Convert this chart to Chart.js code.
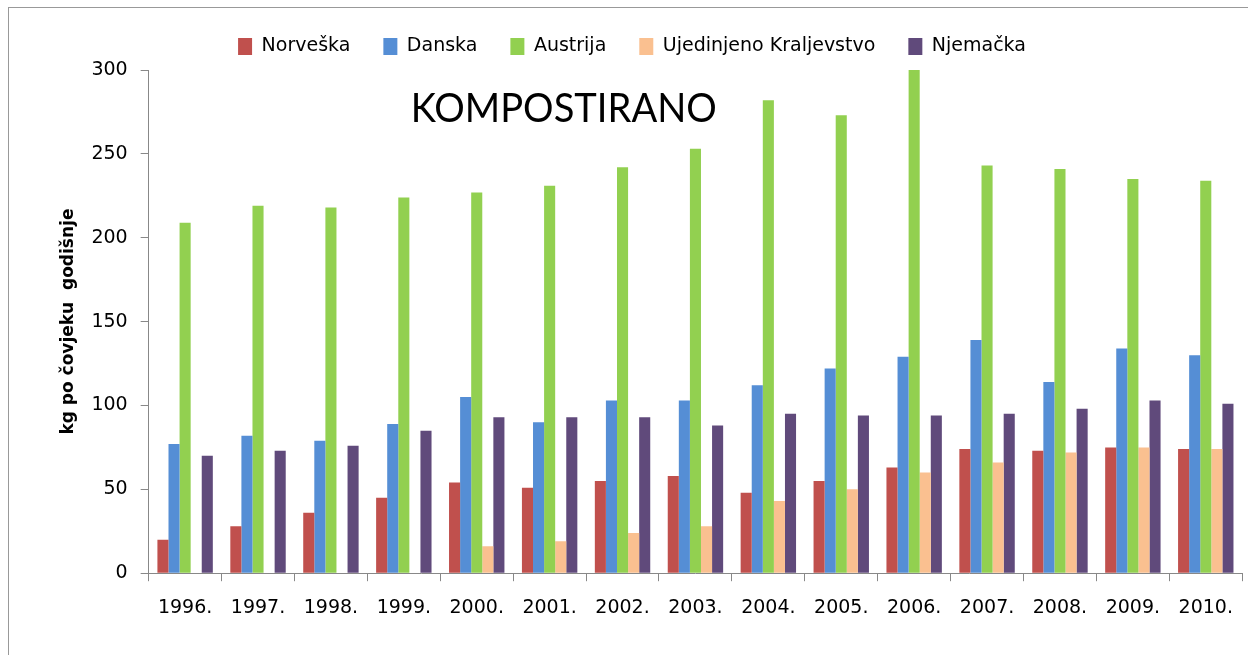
<!DOCTYPE html>
<html>
<head>
<meta charset="utf-8">
<script src="https://cdn.jsdelivr.net/npm/chart.js@4"></script>
<style>
  html, body { margin: 0; padding: 0; background: #fff; }
  #wrap { position: relative; width: 1248px; height: 655px; overflow: hidden; }
  #frame { position: absolute; left: 8px; top: 7px; width: 1300px; height: 700px; border: 1px solid #999; box-sizing: border-box; }
  #chart { position: absolute; left: 0; top: 0; }
</style>
</head>
<body>
<div id="wrap">
  <div id="frame"></div>
  <canvas id="chart" width="1248" height="655"></canvas>
</div>
<script>
const years = ['1996.', '1997.', '1998.', '1999.', '2000.', '2001.', '2002.', '2003.', '2004.', '2005.', '2006.', '2007.', '2008.', '2009.', '2010.'];

const norveska = [20, 28, 36, 45, 54, 51, 55, 58, 48, 55, 63, 74, 73, 75, 74];
const danska = [77, 82, 79, 89, 105, 90, 103, 103, 112, 122, 129, 139, 114, 134, 130];
const austrija = [209, 219, 218, 224, 227, 231, 242, 253, 282, 273, 300, 243, 241, 235, 234];
const ujedinjenoKraljevstvo = [0, 0, 0, 0, 16, 19, 24, 28, 43, 50, 60, 66, 72, 75, 74];
const njemacka = [70, 73, 76, 85, 93, 93, 93, 88, 95, 94, 94, 95, 98, 103, 101];

const yTicks = [0, 50, 100, 150, 200, 250, 300];

const font = '"DejaVu Sans", sans-serif';

// title sits inside the plot area
const insideTitle = {
    id: 'insideTitle',
    afterDraw(chart) {
        const { ctx, chartArea } = chart;
        ctx.save();
        ctx.font = '41px Lato, sans-serif';
        ctx.fillStyle = '#000';
        ctx.textAlign = 'left';
        ctx.textBaseline = 'middle';
        ctx.translate(chartArea.left + 262, chartArea.top + 39);
        ctx.scale(0.93, 1);
        ctx.fillText('KOMPOSTIRANO', 0, 0);
        ctx.restore();
    }
};

// a bit more room under the legend
const legendGap = {
    id: 'legendGap',
    beforeInit(chart) {
        const fit = chart.legend.fit;
        chart.legend.fit = function () {
            fit.call(this);
            this.height += 4;
        };
    }
};

function series(label, data, color) {
    return {
        label,
        data,
        backgroundColor: color,
        borderWidth: 0,
        categoryPercentage: 0.76,
        barPercentage: 1
    };
}

new Chart(document.getElementById('chart'), {
    type: 'bar',
    data: {
        labels: years,
        datasets: [
            series('Norveška', norveska, '#C0504D'),
            series('Danska', danska, '#558ED5'),
            series('Austrija', austrija, '#92D050'),
            series('Ujedinjeno Kraljevstvo', ujedinjenoKraljevstvo, '#FAC090'),
            series('Njemačka', njemacka, '#604A7B')
        ]
    },
    options: {
        responsive: false,
        animation: false,
        layout: { padding: { left: 17, right: 1, top: 4, bottom: 21 } },
        plugins: {
            legend: {
                position: 'top',
                labels: {
                    boxWidth: 14,
                    boxHeight: 17,
                    padding: 33,
                    color: '#000',
                    font: { family: font, size: 19 }
                }
            },
            tooltip: { enabled: false }
        },
        scales: {
            x: {
                grid: { drawOnChartArea: false, drawTicks: true, tickLength: 8, color: '#888' },
                border: { color: '#888', width: 1 },
                ticks: { color: '#000', padding: 15, font: { family: font, size: 19 }, maxRotation: 0 }
            },
            y: {
                min: 0,
                max: 300,
                afterBuildTicks: axis => { axis.ticks = yTicks.map(v => ({ value: v })); },
                grid: { drawOnChartArea: false, drawTicks: true, tickLength: 8, color: '#888' },
                border: { color: '#888', width: 1 },
                ticks: { color: '#000', padding: 13, font: { family: font, size: 19 } },
                title: {
                    display: true,
                    text: 'kg po čovjeku  godišnje',
                    color: '#000',
                    font: { family: font, size: 17, weight: 'bold' },
                    padding: { top: 41, bottom: 0 }
                }
            }
        }
    },
    plugins: [insideTitle, legendGap]
});
</script>
</body>
</html>
